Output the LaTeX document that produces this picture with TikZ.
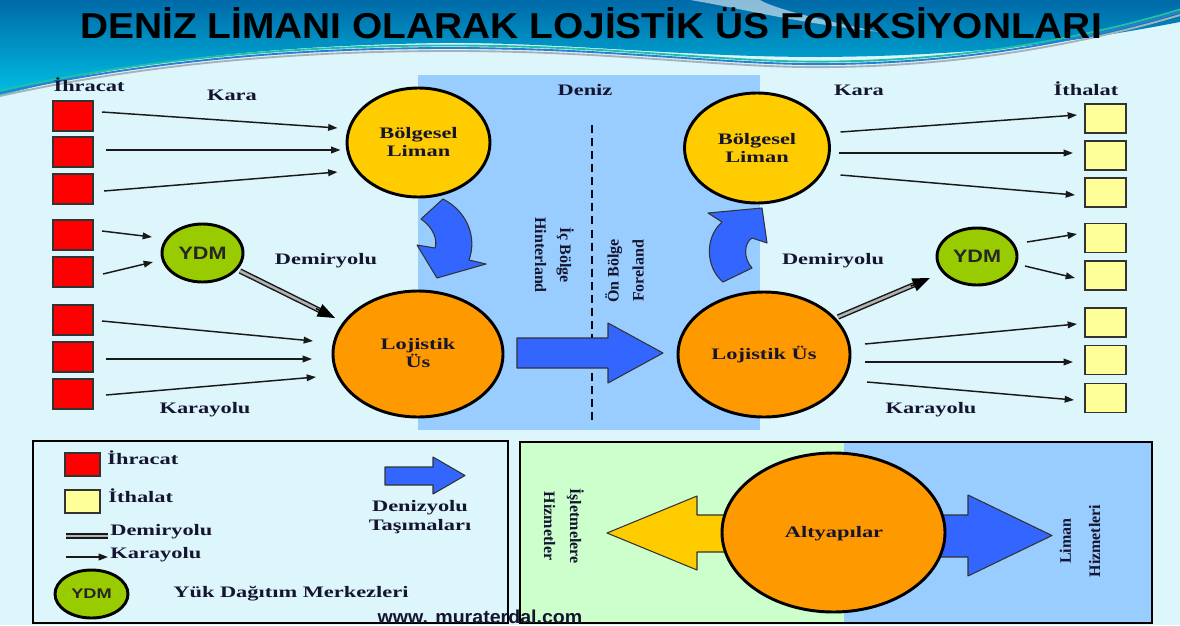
\documentclass[tikz,border=0pt]{standalone}
\usepackage{fontspec}
\setmainfont{Liberation Serif}
\newfontfamily\headsans{Liberation Sans}
\usetikzlibrary{shapes.geometric,arrows.meta,calc}

\newdimen\pxu
\pxu=0.75pt

\definecolor{bgcyan}{HTML}{DDF6FC}
\definecolor{seablue}{HTML}{99CCFF}
\definecolor{portyellow}{HTML}{FFCC00}
\definecolor{baseorange}{HTML}{FF9900}
\definecolor{ydmgreen}{HTML}{99CC00}
\definecolor{flowblue}{HTML}{3366FF}
\definecolor{exportred}{HTML}{FF0000}
\definecolor{importyellow}{HTML}{FFFF99}
\definecolor{panelgreen}{HTML}{CCFFCC}
\definecolor{inkdark}{HTML}{151530}
\definecolor{bannertop}{HTML}{006AA8}
\definecolor{bannerlow}{HTML}{00C0E4}
\definecolor{wavegray}{HTML}{A8B0B8}
\definecolor{waveteal}{HTML}{20C0A8}
\definecolor{waveblue}{HTML}{2C7FD0}

\tikzset{
  lbl/.style={font=\fontsize{12}{13.5}\selectfont\bfseries, text=inkdark,
    inner sep=0pt, xscale=1.4, align=center},
  vlbl/.style={font=\fontsize{12}{18.75}\selectfont\bfseries, text=inkdark,
    inner sep=0pt, align=center},
  port/.style={ellipse, draw=black, line width=2.2pt, inner sep=0pt, outer sep=0pt},
  ydmtext/.style={font=\headsans\bfseries\fontsize{13.5}{15}\selectfont,
    text=black!85, inner sep=0pt, xscale=1.2},
  cargobox/.style={rectangle, draw=black!80, line width=1.3pt, inner sep=0pt, outer sep=0pt},
  exportbox/.style={cargobox, fill=exportred, minimum width=40*\pxu, minimum height=30*\pxu},
  importbox/.style={cargobox, fill=importyellow, minimum width=41*\pxu, minimum height=29*\pxu},
  road/.style={draw=black!90, line width=1.1pt, -{Triangle[length=7pt,width=5pt]}},
  railshaft/.style={draw=black!90, line width=1.1pt, double=gray!60, double distance=1.9pt},
  railhead/.style={draw=black, line width=1pt, -{Triangle[length=13pt,width=10pt]}},
  flowarrow/.style={fill=flowblue, draw=black!80, line width=0.8pt, line join=round},
}

\begin{document}
\begin{tikzpicture}[x=0.75pt, y=-0.75pt]
\useasboundingbox (0,0) rectangle (1180,625);
\clip (0,0) rectangle (1180,625);

% page background and title banner
\fill[bgcyan] (0,0) rectangle (1180,625);
\shade[top color=bannertop, bottom color=bannerlow]
  (0,0) -- (1180,0) -- (1180,22)
  .. controls (1060,45) and (960,56) .. (820,57)
  .. controls (680,57) and (560,42) .. (440,43)
  .. controls (260,46) and (120,62) .. (0,96) -- cycle;
\fill[white, opacity=0.55] (690,0) .. controls (740,8) and (790,22) .. (880,32)
  .. controls (800,16) and (770,6) .. (760,0) -- cycle;
\foreach \dy/\col in {3/wavegray, 0/waveblue, -2.5/waveteal} {
  \draw[\col, line width=1.4pt, shift={(0,\dy)}]
    (0,93) .. controls (150,60) and (300,48) .. (450,48)
    .. controls (600,48) and (700,62) .. (800,64)
    .. controls (950,66) and (1080,42) .. (1180,12);
}
\node[font=\headsans\bfseries\fontsize{27}{30}\selectfont, text=black,
  inner sep=0pt, anchor=base, xscale=1.08] (title) at (591,38)
  {DENİZ LİMANI OLARAK LOJİSTİK ÜS FONKSİYONLARI};

% sea zone
\fill[seablue] (418,75) rectangle (760,430);
\coordinate (dashtop) at (592,125);
\coordinate (dashbot) at (592,425);
\draw[black, line width=2.2pt, dash pattern=on 6pt off 3.8pt] (dashtop) -- (dashbot);

% export boxes
\foreach \i/\y in {1/116, 2/152, 3/189, 4/235, 5/272, 6/320, 7/357, 8/394}
  \node[exportbox] (r\i) at (73,\y) {};
% import boxes
\foreach \i/\y in {1/118.5, 2/155.5, 3/192.5, 4/238, 5/275.5, 6/322.5, 7/360, 8/398}
  \node[importbox] (y\i) at (1105.5,\y) {};

% ports, logistic bases and distribution centres
\node[port, fill=portyellow, minimum width=143*\pxu, minimum height=109*\pxu] (bl) at (418.5,142.5) {};
\node[port, fill=baseorange, minimum width=170*\pxu, minimum height=126*\pxu] (lo1) at (418,354) {};
\node[port, fill=portyellow, minimum width=145*\pxu, minimum height=110*\pxu] (br) at (757,148) {};
\node[port, fill=baseorange, minimum width=172*\pxu, minimum height=125*\pxu] (lo2) at (764,354.5) {};
\node[port, fill=ydmgreen, minimum width=81*\pxu, minimum height=58*\pxu] (ydm1) at (202.5,253) {};
\node[port, fill=ydmgreen, minimum width=80*\pxu, minimum height=57*\pxu] (ydm2) at (977,256.5) {};

% road links, left side
\draw[road] ([shift={(9,-4)}]r1.east) -- ([shift={(-9.5,-14.5)}]bl.west);
\draw[road] ([shift={(13,-2)}]r2.east) -- ([shift={(-6.5,7.5)}]bl.west);
\draw[road] ([shift={(11,2)}]r3.east) -- ([shift={(-9.5,29.5)}]bl.west);
\draw[road] ([shift={(9,-4)}]r4.east) -- ([shift={(-10,-16)}]ydm1.west);
\draw[road] ([shift={(10,2)}]r5.east) -- ([shift={(-9,9)}]ydm1.west);
\draw[road] ([shift={(9,1)}]r6.east) -- ([shift={(-20,-13)}]lo1.west);
\draw[road] ([shift={(13,2)}]r7.east) -- ([shift={(-21,5)}]lo1.west);
\draw[road] ([shift={(13,1)}]r8.east) -- ([shift={(-17,23)}]lo1.west);

% road links, right side
\draw[road] ([shift={(11,-16)}]br.east) -- ([shift={(-8,-3.5)}]y1.west);
\draw[road] ([shift={(9,5)}]br.east) -- ([shift={(-12,-2.5)}]y2.west);
\draw[road] ([shift={(11,27)}]br.east) -- ([shift={(-10,2.5)}]y3.west);
\draw[road] ([shift={(10,-14.5)}]ydm2.east) -- ([shift={(-8,-4)}]y4.west);
\draw[road] ([shift={(8,9.5)}]ydm2.east) -- ([shift={(-10,2.5)}]y5.west);
\draw[road] ([shift={(15,-10.5)}]lo2.east) -- ([shift={(-8,1.5)}]y6.west);
\draw[road] ([shift={(15,7.5)}]lo2.east) -- ([shift={(-12,2)}]y7.west);
\draw[road] ([shift={(17,27.5)}]lo2.east) -- ([shift={(-11,2)}]y8.west);

% rail links
\coordinate (railLa) at ([shift={(-3,18)}]ydm1.east);
\coordinate (railLb) at ([shift={(2,-36)}]lo1.west);
\coordinate (railRa) at ([shift={(-12,-37.5)}]lo2.east);
\coordinate (railRb) at ([shift={(-7,21.5)}]ydm2.west);
\draw[railshaft] (railLa) -- ($(railLa)!0.85!(railLb)$);
\draw[railhead] ($(railLa)!0.8!(railLb)$) -- (railLb);
\draw[railshaft] (railRa) -- ($(railRa)!0.84!(railRb)$);
\draw[railhead] ($(railRa)!0.79!(railRb)$) -- (railRb);

% sea transport arrows
\draw[flowarrow] (443,199) -- (421,219) .. controls (433,227) and (438,240) .. (435,248)
  -- (417,245) -- (437,278) -- (486,264) -- (469,260)
  .. controls (477,238) and (468,212) .. (443,199) -- cycle;
\draw[flowarrow] (723,282) -- (752,268) .. controls (743,258) and (744,243) .. (752,238)
  -- (767,243) -- (762,208) -- (708,213) -- (722,222)
  .. controls (704,238) and (706,268) .. (723,282) -- cycle;
\draw[flowarrow] (517,338) -- (608,338) -- (608,323) -- (663,353)
  -- (608,383) -- (608,368) -- (517,368) -- cycle;

% texts of the main scheme
\node[lbl, anchor=base] (t-exp) at (89,91) {İhracat};
\node[lbl, anchor=base] (t-kara1) at (232,100) {Kara};
\node[lbl, anchor=base] (t-deniz) at (585,95) {Deniz};
\node[lbl, anchor=base] (t-kara2) at (859,95) {Kara};
\node[lbl, anchor=base] (t-imp) at (1086,95) {İthalat};
\node[lbl, anchor=base] (t-dem1) at (326,264) {Demiryolu};
\node[lbl, anchor=base] (t-dem2) at (833,264) {Demiryolu};
\node[lbl, anchor=base] (t-kyl1) at (205,413) {Karayolu};
\node[lbl, anchor=base] (t-kyl2) at (931,413) {Karayolu};
\node[lbl] (t-bl) at (bl.center) {Bölgesel\\Liman};
\node[lbl] (t-br) at (br.center) {Bölgesel\\Liman};
\node[lbl] (t-lo1) at (418,353) {Lojistik\\Üs};
\node[lbl] (t-lo2) at (764,355) {Lojistik Üs};
\node[ydmtext] (t-ydm1) at (ydm1.center) {YDM};
\node[ydmtext] (t-ydm2) at (ydm2.center) {YDM};
\node[vlbl, rotate=-90] (t-hinter) at (554.5,255) {İç Bölge\\Hinterland};
\node[vlbl, rotate=90] (t-fore) at (624.5,271) {Ön Bölge\\Foreland};

% legend
\node[cargobox, fill=exportred, minimum width=35*\pxu, minimum height=23*\pxu] (lg-exp) at (82.5,464.5) {};
\node[cargobox, fill=importyellow, minimum width=35*\pxu, minimum height=23*\pxu] (lg-imp) at (82.5,501.5) {};
\coordinate (lgrail0) at (66,536);
\coordinate (lgrail1) at (108,536);
\draw[railshaft] (lgrail0) -- (lgrail1);
\coordinate (lgroad0) at (66,557);
\coordinate (lgroad1) at (108,557);
\draw[road] (lgroad0) -- (lgroad1);
\node[port, fill=ydmgreen, minimum width=73*\pxu, minimum height=48*\pxu] (lg-ydm) at (91.5,594) {};
\node[font=\headsans\bfseries\fontsize{10.5}{12}\selectfont, text=black!85,
  inner sep=0pt, xscale=1.3] (lg-ydmt) at (lg-ydm.center) {YDM};
\draw[flowarrow] (385,467) -- (433,467) -- (433,457) -- (465,475.5)
  -- (433,494) -- (433,485) -- (385,485) -- cycle;
\node[lbl, anchor=base west] (lg-t1) at (107,464) {İhracat};
\node[lbl, anchor=base west] (lg-t2) at (108,502) {İthalat};
\node[lbl, anchor=base west] (lg-t3) at (110,535) {Demiryolu};
\node[lbl, anchor=base west] (lg-t4) at (110,558) {Karayolu};
\node[lbl, anchor=base west] (lg-t5) at (173,597) {Yük Dağıtım Merkezleri};
\node[lbl, anchor=base] (lg-t6) at (420,511) {Denizyolu};
\node[lbl, anchor=base] (lg-t7) at (420,530) {Taşımaları};
\draw[black, line width=1.6pt] (33,441) rectangle (508,623);

% infrastructure panel
\fill[panelgreen] (520,442) rectangle (844,623);
\fill[seablue] (844,442) rectangle (1152,623);
\fill[portyellow, draw=black!80, line width=0.8pt, line join=round]
  (607,533) -- (697,496) -- (697,515) -- (740,515) -- (740,552)
  -- (697,552) -- (697,570) -- cycle;
\draw[flowarrow] (1052,535.5) -- (968,495) -- (968,515) -- (925,515)
  -- (925,557) -- (968,557) -- (968,576) -- cycle;
\node[port, fill=baseorange, minimum width=223*\pxu, minimum height=159*\pxu] (alt) at (833.5,532.5) {};
\node[lbl] (t-alt) at (834,534) {Altyapılar};
\node[vlbl, rotate=-90, font=\fontsize{12}{19.5}\selectfont\bfseries] (t-isl) at (564,526) {İşletmelere\\Hizmetler};
\node[vlbl, rotate=90, font=\fontsize{12}{22}\selectfont\bfseries] (t-limh) at (1080,541) {Liman\\Hizmetleri};
\draw[black, line width=1.6pt] (520,442) rectangle (1152,623);

% site address
\node[font=\headsans\bfseries\fontsize{14}{16}\selectfont, text=inkdark,
  inner sep=0pt, anchor=base, xscale=1.05] (url) at (480,623) {www. muraterdal.com};
\end{tikzpicture}
\end{document}
